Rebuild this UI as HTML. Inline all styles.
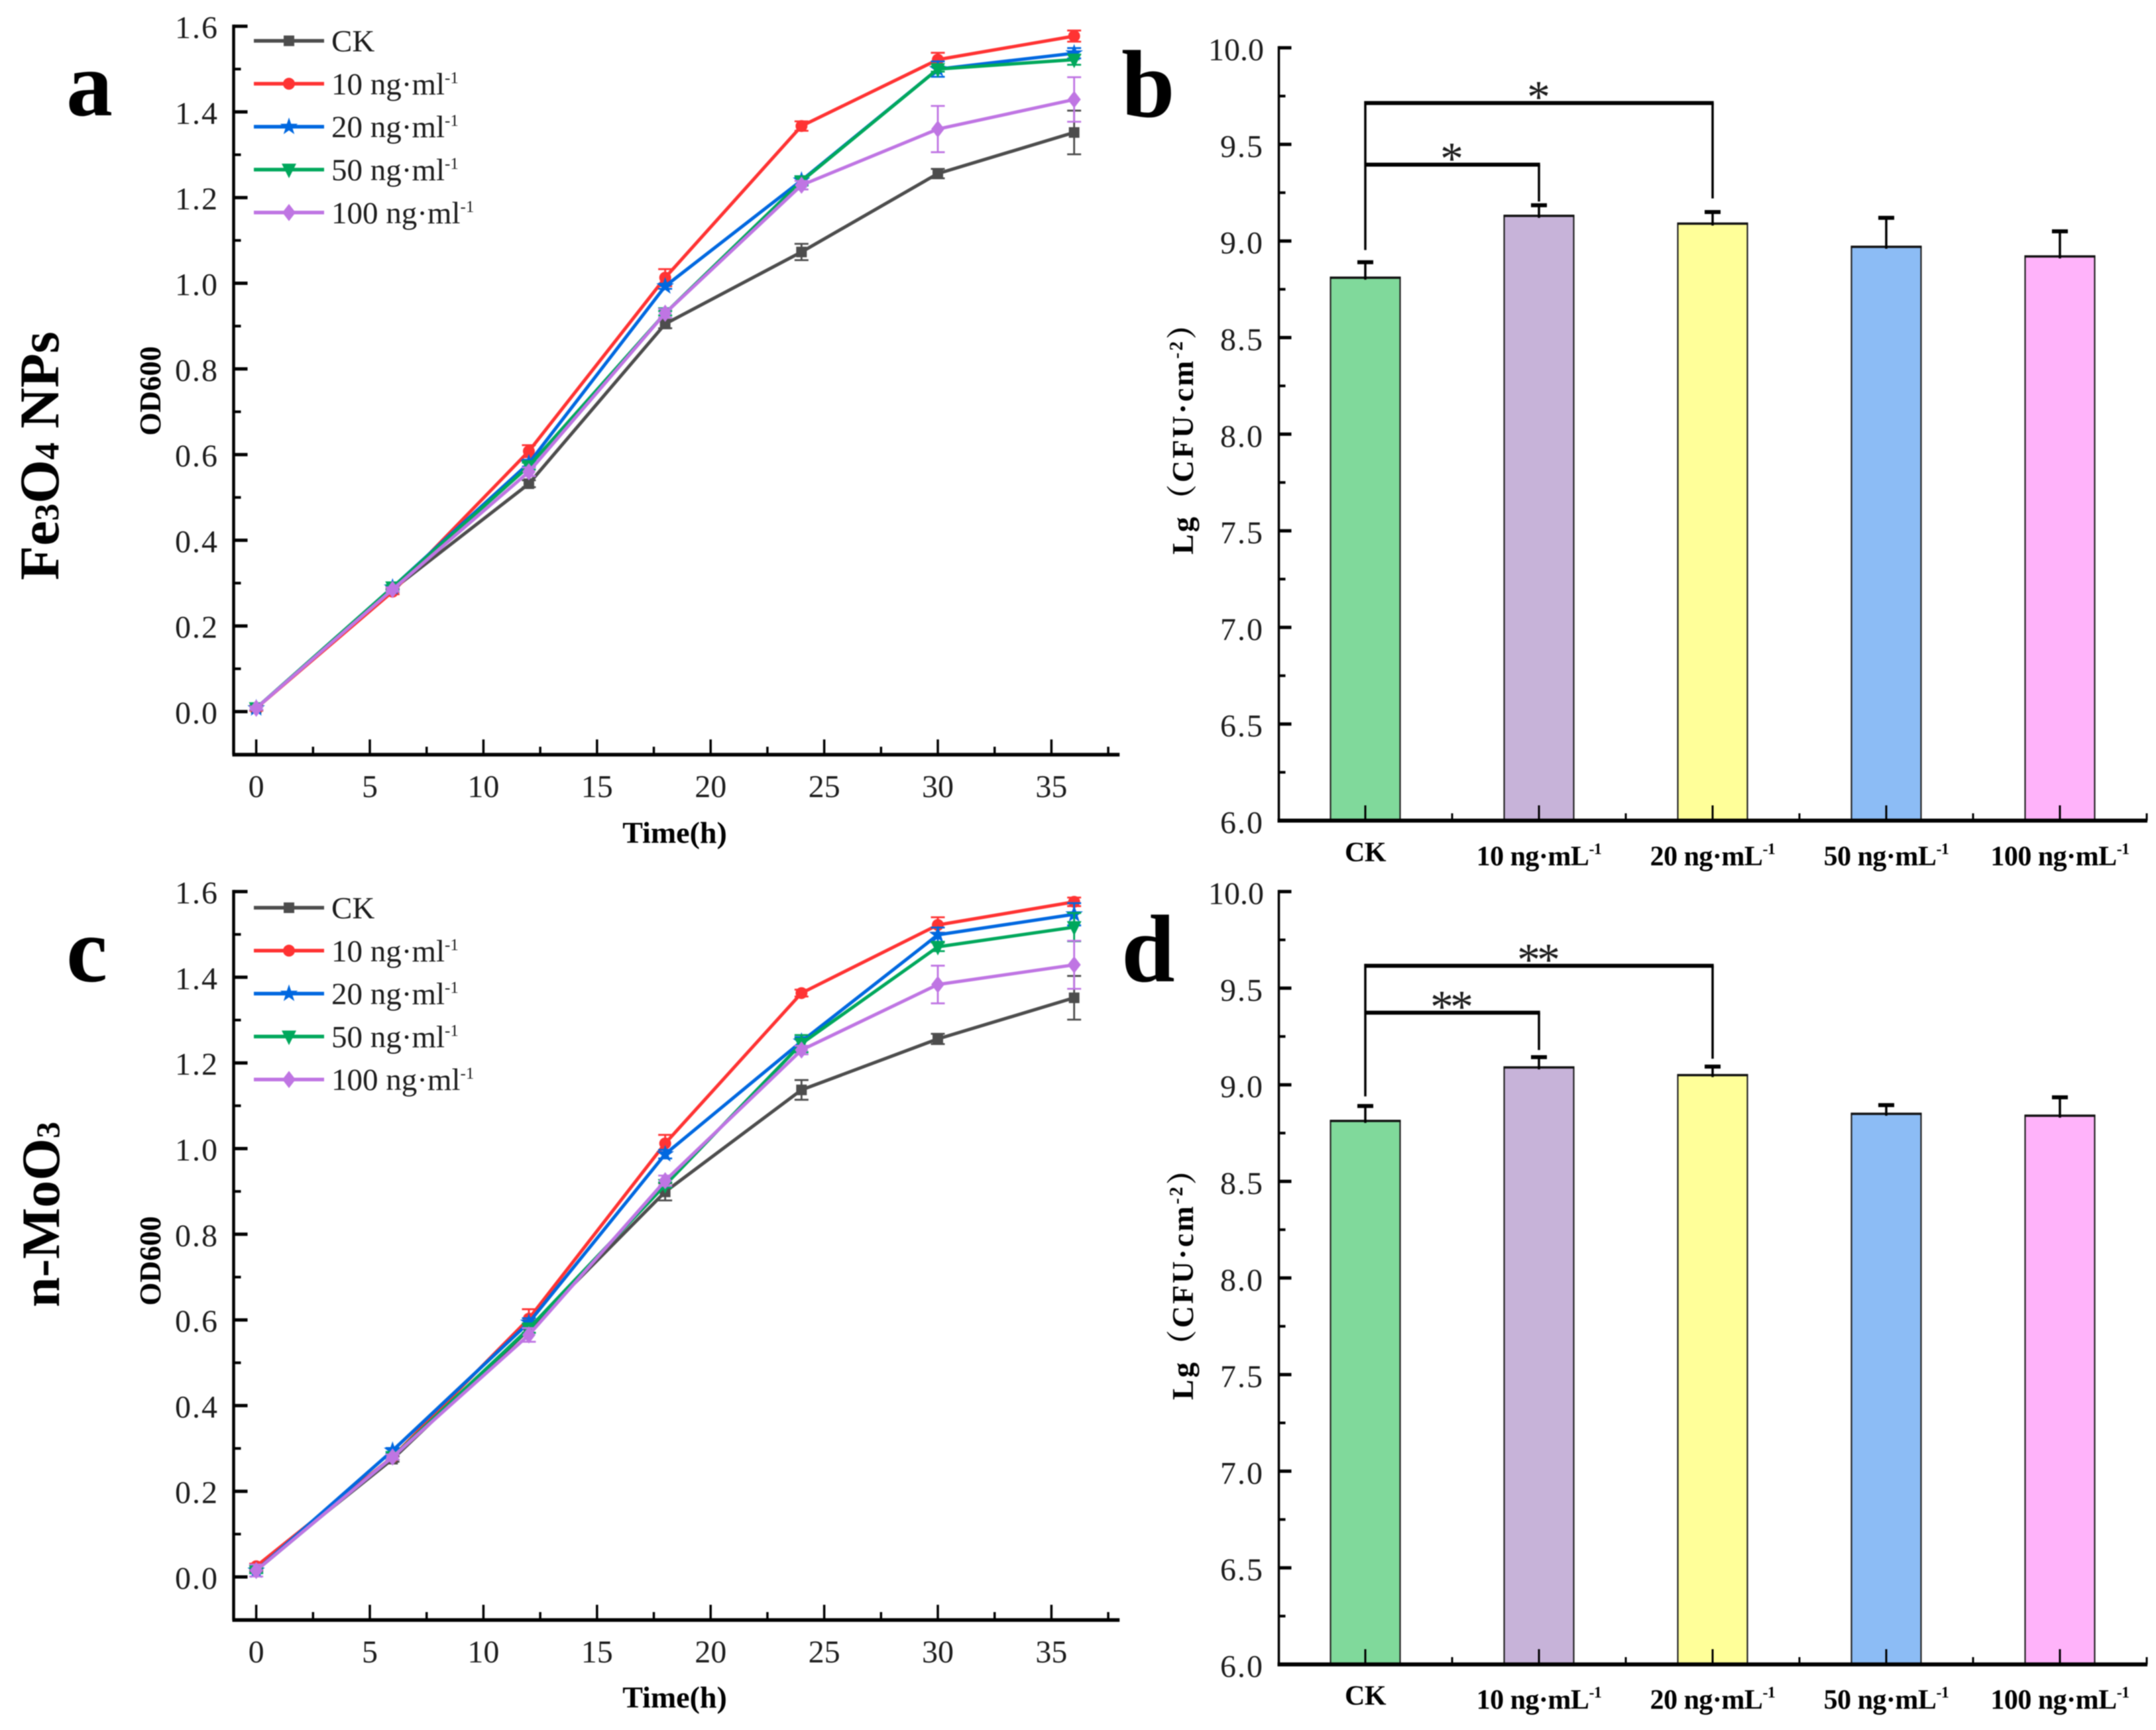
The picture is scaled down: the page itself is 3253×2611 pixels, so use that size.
<!DOCTYPE html>
<html lang="en">
<head>
<meta charset="utf-8">
<title>Bacterial growth and biofilm charts</title>
<style>
html,body{margin:0;padding:0;background:#fff;}
svg{display:block;filter:blur(.8px);}
text{font-family:"Liberation Serif","Noto Serif CJK SC",serif;fill:#1c1c1c;}
.b{font-weight:bold;fill:#000;}
</style>
</head>
<body>
<svg id="figure" xmlns="http://www.w3.org/2000/svg" width="3253" height="2611" viewBox="0 0 3253 2611">
<rect x="0" y="0" width="3253" height="2611" fill="#fff"/>

<text class="b" x="100" y="174" font-size="140">a</text>
<text class="b" x="1692" y="176" font-size="145">b</text>
<text class="b" x="100" y="1481" font-size="140">c</text>
<text class="b" x="1692" y="1481" font-size="145">d</text>

<text class="b" transform="translate(88,688) rotate(-90)" text-anchor="middle" font-size="85">Fe<tspan font-size="52">3</tspan>O<tspan font-size="52">4</tspan> NPs</text>
<text class="b" transform="translate(89,1833) rotate(-90)" text-anchor="middle" font-size="82">n-MoO<tspan font-size="50">3</tspan></text>

<text class="b" transform="translate(242,590) rotate(-90)" text-anchor="middle" font-size="45">OD600</text>
<text class="b" transform="translate(242,1903) rotate(-90)" text-anchor="middle" font-size="45">OD600</text>
<text class="b" x="1018" y="1272" text-anchor="middle" font-size="46">Time(h)</text>
<text class="b" x="1018" y="2577" text-anchor="middle" font-size="46">Time(h)</text>
<text class="b" transform="translate(1800,650) rotate(-90)" text-anchor="middle" font-size="46" letter-spacing="3">Lg（CFU·cm<tspan font-size="28" dy="-16">-2</tspan><tspan dy="16">）</tspan></text>
<text class="b" transform="translate(1800,1926) rotate(-90)" text-anchor="middle" font-size="46" letter-spacing="3">Lg（CFU·cm<tspan font-size="28" dy="-16">-2</tspan><tspan dy="16">）</tspan></text>

<g id="panel-a"></g>
<g id="panel-b"></g>
<g id="panel-c"></g>
<g id="panel-d"></g>
</svg>

<script>
/* ---------- line chart data ---------- */
const hours = [0, 6, 12, 18, 24, 30, 36];
const seriesLabels = ['CK', '10 ng·ml', '20 ng·ml', '50 ng·ml', '100 ng·ml'];
const seriesColors = ['#4d4d4d', '#ff3333', '#0068e0', '#00a85c', '#bf75e3'];
const seriesShapes = ['square', 'circle', 'star', 'triangle', 'diamond'];

const panelA_CK   = [0.008, 0.285, 0.532, 0.905, 1.073, 1.256, 1.352];
const panelA_10   = [0.008, 0.280, 0.608, 1.013, 1.367, 1.522, 1.577];
const panelA_20   = [0.008, 0.290, 0.580, 0.993, 1.240, 1.500, 1.537];
const panelA_50   = [0.008, 0.290, 0.573, 0.930, 1.238, 1.500, 1.522];
const panelA_100  = [0.008, 0.285, 0.560, 0.930, 1.229, 1.360, 1.429];
const panelA_CK_err  = [0.004, 0.006, 0.008, 0.010, 0.019, 0.011, 0.051];
const panelA_10_err  = [0.006, 0.006, 0.014, 0.020, 0.011, 0.016, 0.013];
const panelA_20_err  = [0.004, 0.005, 0.008, 0.006, 0.010, 0.018, 0.012];
const panelA_50_err  = [0.004, 0.005, 0.008, 0.005, 0.010, 0.006, 0.012];
const panelA_100_err = [0.004, 0.005, 0.010, 0.010, 0.010, 0.054, 0.052];

const panelC_CK   = [0.020, 0.275, 0.578, 0.899, 1.137, 1.256, 1.352];
const panelC_10   = [0.025, 0.280, 0.603, 1.012, 1.363, 1.522, 1.576];
const panelC_20   = [0.015, 0.295, 0.594, 0.987, 1.250, 1.499, 1.547];
const panelC_50   = [0.015, 0.280, 0.580, 0.915, 1.245, 1.471, 1.517];
const panelC_100  = [0.015, 0.280, 0.565, 0.925, 1.230, 1.383, 1.429];
const panelC_CK_err  = [0.006, 0.006, 0.008, 0.020, 0.023, 0.012, 0.051];
const panelC_10_err  = [0.006, 0.006, 0.022, 0.020, 0.008, 0.018, 0.010];
const panelC_20_err  = [0.006, 0.006, 0.010, 0.010, 0.010, 0.017, 0.026];
const panelC_50_err  = [0.006, 0.006, 0.010, 0.006, 0.020, 0.010, 0.033];
const panelC_100_err = [0.014, 0.006, 0.016, 0.012, 0.010, 0.044, 0.056];

const odMajorTicks = [0, 0.2, 0.4, 0.6, 0.8, 1.0, 1.2, 1.4, 1.6];
const odTickLabels = ['0.0', '0.2', '0.4', '0.6', '0.8', '1.0', '1.2', '1.4', '1.6'];
const odMinorTicks = [0.1, 0.3, 0.5, 0.7, 0.9, 1.1, 1.3, 1.5];
const timeMajorTicks = [0, 5, 10, 15, 20, 25, 30, 35];
const timeTickLabels = ['0', '5', '10', '15', '20', '25', '30', '35'];
const timeMinorTicks = [2.5, 7.5, 12.5, 17.5, 22.5, 27.5, 32.5, 37.5];

/* ---------- bar chart data ---------- */
const barCategories = ['CK', '10 ng·mL', '20 ng·mL', '50 ng·mL', '100 ng·mL'];
const barColors = ['#80d99b', '#c7b3d9', '#ffff99', '#8cbcf5', '#ffb3fa'];
const panelB_values = [8.81, 9.13, 9.09, 8.97, 8.92];
const panelB_errors = [0.08, 0.055, 0.06, 0.15, 0.13];
const panelD_values = [8.813, 9.09, 9.05, 8.85, 8.84];
const panelD_errors = [0.077, 0.053, 0.044, 0.045, 0.095];
const cfuMajorTicks = [6, 6.5, 7, 7.5, 8, 8.5, 9, 9.5, 10];
const cfuTickLabels = ['6.0', '6.5', '7.0', '7.5', '8.0', '8.5', '9.0', '9.5', '10.0'];
const cfuMinorTicks = [6.25, 6.75, 7.25, 7.75, 8.25, 8.75, 9.25, 9.75];

/* significance brackets: category index, level and lower ends in axis units */
const panelB_sigTo = [1, 2];
const panelB_sigLevel = [9.395, 9.714];
const panelB_sigEnd = [9.204, 9.22];
const panelB_sigMark = ['*', '*'];
const panelB_sigStemEnd = 8.953;
const panelD_sigTo = [1, 2];
const panelD_sigLevel = [9.373, 9.616];
const panelD_sigEnd = [9.18, 9.135];
const panelD_sigMark = ['**', '**'];
const panelD_sigStemEnd = 8.94;

/* ---------- helpers ---------- */
const NS = 'http://www.w3.org/2000/svg';
function mk(tag, attrs, parent) {
  const n = document.createElementNS(NS, tag);
  for (const k in attrs) n.setAttribute(k, attrs[k]);
  parent.appendChild(n);
  return n;
}
function xTime(t) { return 386.6 + 34.28 * t; }
function yOD(zero, v) { return zero - 646.5 * v; }
function xBar(i) { return 2060 + 262 * i; }
function yCFU(base, v) { return base - (v - 6) * 291.6; }

function drawMarker(parent, shape, cx, cy, color) {
  let el;
  if (shape === 'square') {
    el = mk('rect', {x: cx - 8, y: cy - 8, width: 16, height: 16, fill: color}, parent);
  } else if (shape === 'circle') {
    el = mk('circle', {cx: cx, cy: cy, r: 9, fill: color}, parent);
  } else if (shape === 'star') {
    let pts = [];
    for (let i = 0; i < 10; i++) {
      const r = i % 2 ? 5.5 : 14;
      const a = -Math.PI / 2 + i * Math.PI / 5;
      pts.push((cx + r * Math.cos(a)).toFixed(1) + ',' + (cy + r * Math.sin(a)).toFixed(1));
    }
    el = mk('polygon', {points: pts.join(' '), fill: color}, parent);
  } else if (shape === 'triangle') {
    el = mk('polygon', {points: (cx - 11) + ',' + (cy - 9) + ' ' + (cx + 11) + ',' + (cy - 9) + ' ' + cx + ',' + (cy + 13), fill: color}, parent);
  } else {
    el = mk('polygon', {points: cx + ',' + (cy - 13) + ' ' + (cx + 10) + ',' + cy + ' ' + cx + ',' + (cy + 13) + ' ' + (cx - 10) + ',' + cy, fill: color}, parent);
  }
  
  
}

function drawGrowthPanel(group, zero, axisY, legendTop, series, errors) {
  const axisX = 352.5;
  const axisEnd = xTime(38);
  const yAxis = mk('line', {x1: axisX, x2: axisX, y1: yOD(zero, 1.6) - 2.5, y2: axisY, stroke: '#000', 'stroke-width': 4.5}, group);
  
  
  const xAxis = mk('line', {x1: axisX - 2, x2: axisEnd, y1: axisY, y2: axisY, stroke: '#000', 'stroke-width': 5.5}, group);
  
  

  odMajorTicks.forEach(function (v, i) {
    const y = yOD(zero, v);
    const tick = mk('line', {x1: axisX, x2: axisX + 21, y1: y, y2: y, stroke: '#000', 'stroke-width': 5}, group);
    
    
    const label = mk('text', {x: 330, y: y + 18, 'text-anchor': 'end', 'font-size': 48, 'letter-spacing': 2}, group);
    label.textContent = odTickLabels[i];
    
    
  });
  odMinorTicks.forEach(function (v) {
    const y = yOD(zero, v);
    const tick = mk('line', {x1: axisX, x2: axisX + 11, y1: y, y2: y, stroke: '#000', 'stroke-width': 4}, group);
    
    
  });
  timeMajorTicks.forEach(function (t, i) {
    const x = xTime(t);
    const tick = mk('line', {x1: x, x2: x, y1: axisY - 23, y2: axisY, stroke: '#000', 'stroke-width': 3.5}, group);
    
    
    const label = mk('text', {x: x, y: axisY + 64, 'text-anchor': 'middle', 'font-size': 48}, group);
    label.textContent = timeTickLabels[i];
    
    
  });
  timeMinorTicks.forEach(function (t) {
    const x = xTime(t);
    const tick = mk('line', {x1: x, x2: x, y1: axisY - 12, y2: axisY, stroke: '#000', 'stroke-width': 3.5}, group);
    
    
  });

  series.forEach(function (vals, s) {
    const color = seriesColors[s];
    vals.forEach(function (v, i) {
      const x = xTime(hours[i]);
      const hi = yOD(zero, v + errors[s][i]);
      const lo = yOD(zero, v - errors[s][i]);
      const err = mk('path', {d: 'M' + x + ' ' + hi + 'V' + lo + 'M' + (x - 10.5) + ' ' + hi + 'H' + (x + 10.5) + 'M' + (x - 10.5) + ' ' + lo + 'H' + (x + 10.5), stroke: color, 'stroke-width': 2.8, fill: 'none'}, group);
      
      
    });
    const pts = vals.map(function (v, i) { return xTime(hours[i]).toFixed(1) + ',' + yOD(zero, v).toFixed(1); }).join(' ');
    const line = mk('polyline', {points: pts, fill: 'none', stroke: color, 'stroke-width': 5, 'stroke-linejoin': 'round'}, group);
    
    
    vals.forEach(function (v, i) {
      drawMarker(group, seriesShapes[s], xTime(hours[i]), yOD(zero, v), color);
    });
  });

  seriesLabels.forEach(function (name, s) {
    const y = legendTop + 64.8 * s;
    const sample = mk('line', {x1: 383, x2: 489, y1: y, y2: y, stroke: seriesColors[s], 'stroke-width': 5.5}, group);
    
    
    drawMarker(group, seriesShapes[s], 436, y, seriesColors[s]);
    const label = mk('text', {x: 500, y: y + 16, 'font-size': 47}, group);
    label.textContent = name;
    
    
    if (s > 0) {
      const sup = mk('tspan', {dy: -17, 'font-size': 25}, label);
      sup.textContent = '-1';
    }
  });
}

function drawBarPanel(group, base, values, errs, sigTo, sigLevel, sigEnd, sigMark, stemEnd, catBase) {
  const axisX = 1929.5;
  const axisEnd = 3240;
  values.forEach(function (v, i) {
    const cx = xBar(i);
    const top = yCFU(base, v);
    const bar = mk('rect', {x: cx - 52.5, y: top, width: 105, height: base - top, fill: barColors[i], stroke: '#222', 'stroke-width': 2.2}, group);
    
    
    const topEdge = mk('line', {x1: cx - 53.5, x2: cx + 53.5, y1: top, y2: top, stroke: '#111', 'stroke-width': 3.5}, group);
    
    
    const capY = yCFU(base, v + errs[i]);
    const stem = mk('line', {x1: cx, x2: cx, y1: top + 3, y2: capY, stroke: '#000', 'stroke-width': 3.5}, group);
    
    
    const cap = mk('line', {x1: cx - 12, x2: cx + 12, y1: capY, y2: capY, stroke: '#000', 'stroke-width': 6}, group);
    
    
    const tick = mk('line', {x1: cx, x2: cx, y1: base - 23, y2: base, stroke: '#000', 'stroke-width': 3}, group);
    
    
    const minorX = cx + 131;
    const minor = mk('line', {x1: minorX, x2: minorX, y1: base - 11, y2: base, stroke: '#000', 'stroke-width': 3}, group);
    
    
    const label = mk('text', {x: cx, y: catBase + (i === 0 ? 0 : 6), 'text-anchor': 'middle', 'font-size': 42, 'letter-spacing': -0.5, class: 'b'}, group);
    label.textContent = barCategories[i];
    
    
    if (i > 0) {
      const sup = mk('tspan', {dy: -17, 'font-size': 24}, label);
      sup.textContent = '-1';
    }
  });

  const yAxis = mk('line', {x1: axisX, x2: axisX, y1: yCFU(base, 10) - 2.5, y2: base, stroke: '#000', 'stroke-width': 3.5}, group);
  
  
  const xAxis = mk('line', {x1: axisX - 2, x2: axisEnd, y1: base, y2: base, stroke: '#000', 'stroke-width': 6}, group);
  
  

  cfuMajorTicks.forEach(function (v, i) {
    const y = yCFU(base, v);
    const tick = mk('line', {x1: axisX, x2: axisX + 19, y1: y, y2: y, stroke: '#000', 'stroke-width': 5}, group);
    
    
    const label = mk('text', {x: 1907, y: y + 19, 'text-anchor': 'end', 'font-size': 48, 'letter-spacing': i === 8 ? 0 : 2}, group);
    label.textContent = cfuTickLabels[i];
    
    
  });
  cfuMinorTicks.forEach(function (v) {
    const y = yCFU(base, v);
    const tick = mk('line', {x1: axisX, x2: axisX + 10, y1: y, y2: y, stroke: '#000', 'stroke-width': 4}, group);
    
    
  });

  const leftX = xBar(0);
  const topLevel = Math.max.apply(null, sigLevel);
  const sigStem = mk('line', {x1: leftX, x2: leftX, y1: yCFU(base, topLevel) - 3, y2: yCFU(base, stemEnd), stroke: '#000', 'stroke-width': 3.5}, group);
  
  
  sigTo.forEach(function (to, k) {
    const toX = xBar(to);
    const y = yCFU(base, sigLevel[k]);
    const bar = mk('line', {x1: leftX, x2: toX + 1.7, y1: y, y2: y, stroke: '#000', 'stroke-width': 6}, group);
    
    
    const drop = mk('line', {x1: toX, x2: toX, y1: y, y2: yCFU(base, sigEnd[k]), stroke: '#000', 'stroke-width': 3.5}, group);
    
    
    const mark = mk('text', {x: (leftX + toX) / 2 - 3, y: y + 14, 'text-anchor': 'middle', 'font-size': 70, 'letter-spacing': -5, fill: '#000'}, group);
    mark.textContent = sigMark[k];
    
    
  });
}

drawGrowthPanel(document.getElementById('panel-a'), 1074, 1139, 61.6,
  [panelA_CK, panelA_10, panelA_20, panelA_50, panelA_100],
  [panelA_CK_err, panelA_10_err, panelA_20_err, panelA_50_err, panelA_100_err]);
drawGrowthPanel(document.getElementById('panel-c'), 2380, 2445, 1370,
  [panelC_CK, panelC_10, panelC_20, panelC_50, panelC_100],
  [panelC_CK_err, panelC_10_err, panelC_20_err, panelC_50_err, panelC_100_err]);
drawBarPanel(document.getElementById('panel-b'), 1238.5, panelB_values, panelB_errors,
  panelB_sigTo, panelB_sigLevel, panelB_sigEnd, panelB_sigMark, panelB_sigStemEnd, 1300);
drawBarPanel(document.getElementById('panel-d'), 2512, panelD_values, panelD_errors,
  panelD_sigTo, panelD_sigLevel, panelD_sigEnd, panelD_sigMark, panelD_sigStemEnd, 2573);
</script>
</body>
</html>
